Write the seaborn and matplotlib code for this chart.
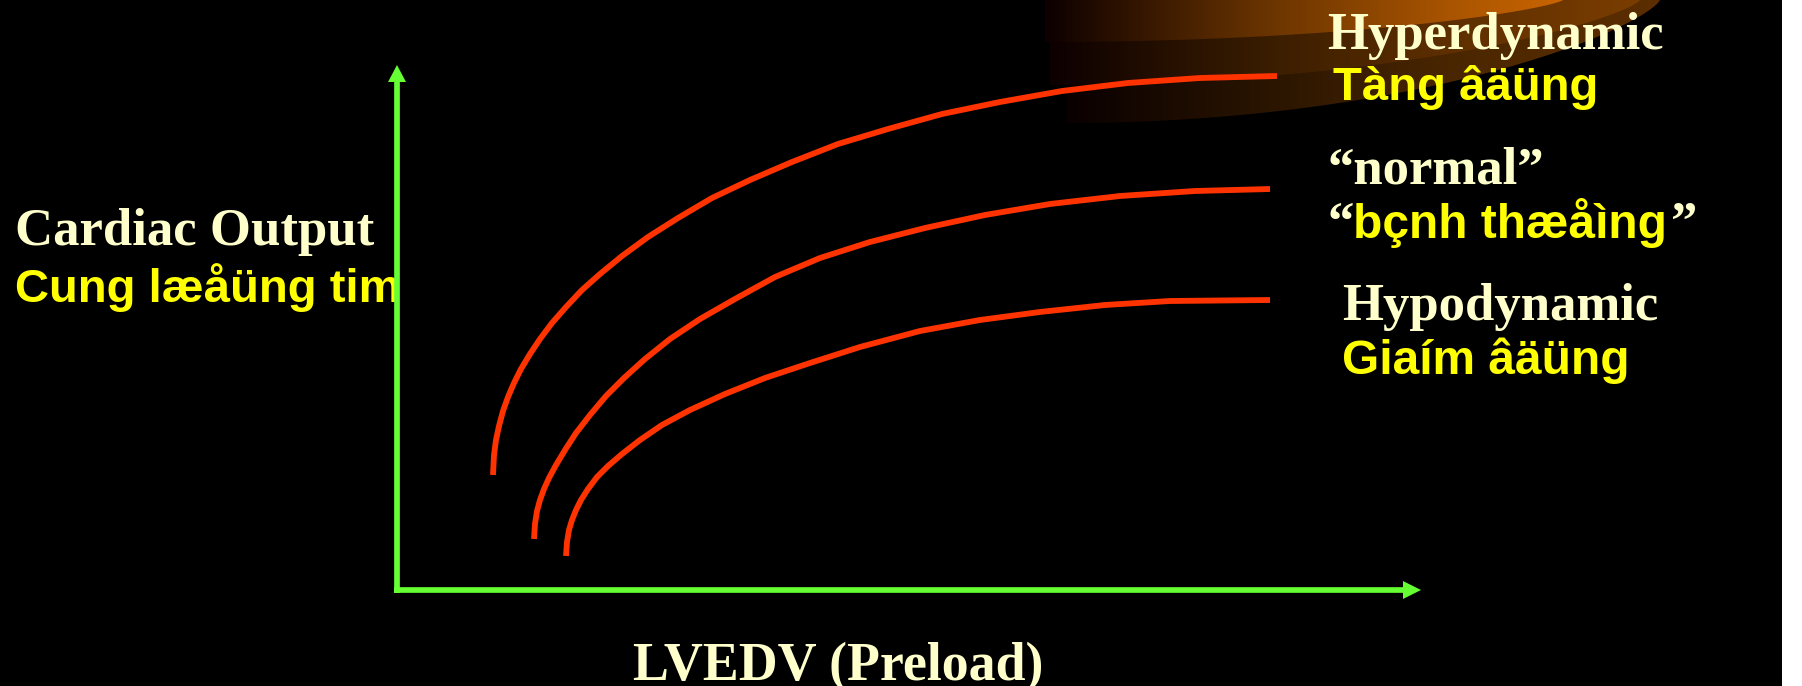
import numpy as np
import pandas as pd
import matplotlib
matplotlib.use("Agg")
import matplotlib.pyplot as plt
from matplotlib.colors import LinearSegmentedColormap
from matplotlib.patches import Polygon, Rectangle
import seaborn as sns

# Frank-Starling curves: cardiac output vs LVEDV (arbitrary units)
hyper_preload = [9.6, 9.7, 9.9, 10.2, 10.6, 11.1, 11.7, 12.4, 13.3, 14.3, 15.5, 16.9,
                 18.5, 20.3, 22.5, 25.1, 28.1, 31.5, 35.3, 39.5, 44.1, 49.1, 54.5,
                 60.3, 66.5, 73.1, 80.3, 88.0]
hyper_output = [23.0, 27.0, 30.0, 32.8, 35.8, 38.6, 41.4, 44.2, 47.2, 50.2, 53.4, 56.6,
                60.0, 63.2, 66.8, 70.6, 74.4, 78.4, 82.0, 85.6, 89.2, 92.2, 95.2,
                97.6, 99.8, 101.4, 102.4, 102.8]

normal_preload = [13.7, 13.8, 14.0, 14.3, 14.7, 15.2, 15.9, 16.8, 17.9, 19.3, 20.9,
                  22.7, 24.8, 27.3, 30.3, 33.8, 37.8, 42.3, 47.3, 52.8, 58.8, 65.3,
                  72.3, 79.8, 87.3]
normal_output = [10.2, 13.2, 15.8, 18.0, 20.2, 22.4, 25.0, 28.0, 31.4, 35.0, 38.8,
                 42.4, 46.2, 50.2, 54.2, 58.2, 62.6, 66.4, 69.6, 72.4, 75.0, 77.2,
                 78.8, 79.8, 80.2]

hypo_preload = [16.9, 17.0, 17.2, 17.5, 17.9, 18.4, 19.1, 20.0, 21.1, 22.5, 24.3,
                26.5, 29.3, 32.8, 36.8, 41.3, 46.3, 52.3, 58.3, 64.3, 70.8, 77.3, 87.3]
hypo_output = [6.8, 9.6, 12.0, 14.0, 16.0, 18.0, 20.2, 22.6, 24.8, 27.2, 30.0,
               33.0, 36.0, 39.2, 42.4, 45.4, 48.6, 51.8, 54.0, 55.6, 57.0, 57.8, 58.0]

states = ["Hyperdynamic", "normal", "Hypodynamic"]

W, H = 1802, 686
RED = "#ff3300"
GREEN = "#66ff33"
CREAM = "#ffffcc"
YELLOW = "#ffff00"
SERIF = ["Liberation Serif", "DejaVu Serif"]
SANS = ["Liberation Sans", "DejaVu Sans"]

sns.set_theme(style="dark")
plt.rcParams["font.family"] = SANS

fig = plt.figure(figsize=(W / 100, H / 100), dpi=100, facecolor="black")

# ---- background layer, laid out in pixel units ----
bg = fig.add_axes([0, 0, 1, 1], zorder=0)
bg.axis("off")


def glow_band(x0, x1, y0, stops, z):
    xs = np.linspace(x0, x1, 300)
    u = (xs - x0) / (x1 - x0)
    ys = y0 * np.clip(1 - u ** 2, 0, None) ** 0.75
    verts = [(x0, 0)] + list(zip(xs, ys)) + [(x1, 0)]
    poly = Polygon(verts, closed=True, facecolor="none", edgecolor="none",
                   transform=bg.transData)
    bg.add_patch(poly)
    cmap = LinearSegmentedColormap.from_list("band", stops)
    grad = np.linspace(0, 1, 512)[None, :]
    im = bg.imshow(grad, cmap=cmap, extent=(x0, x1, y0, 0), aspect="auto",
                   interpolation="bilinear", zorder=z)
    im.set_clip_path(poly)


glow_band(1067, 1660, 123, [(0, "#0a0000"), (0.34, "#2a1500"), (0.65, "#4a2600"),
                            (1, "#5c2e00")], 1)
glow_band(1050, 1640, 85, [(0, "#0d0000"), (0.37, "#3a1d00"), (0.68, "#5e2f00"),
                           (1, "#7a3d00")], 2)
glow_band(1045, 1563, 42, [(0, "#0d0000"), (0.43, "#6a3400"), (0.78, "#a85400"),
                           (1, "#c86400")], 3)

bg.add_patch(Rectangle((1782, 0), 20, H, facecolor="white", edgecolor="none", zorder=4))

# axis lines with arrowheads
lw_axis = 4.1
bg.plot([397, 397], [593, 81], color=GREEN, lw=lw_axis, solid_capstyle="butt", zorder=10)
bg.plot([394, 1404], [590, 590], color=GREEN, lw=lw_axis, solid_capstyle="butt", zorder=10)
bg.add_patch(Polygon([(388, 82), (406, 82), (397, 65)], closed=True, facecolor=GREEN,
                     edgecolor="none", zorder=10))
bg.add_patch(Polygon([(1403, 581), (1403, 599), (1421, 590)], closed=True,
                     facecolor=GREEN, edgecolor="none", zorder=10))


def label(x, y, s, family, size, color):
    return bg.text(x, y, s, fontfamily=family, fontsize=size, fontweight="bold",
                   color=color, ha="left", va="baseline", zorder=6)


label(1327, 49, "Hyperdynamic", SERIF, 38, CREAM)
label(1333, 100, "Tàng âäüng", SANS, 34, YELLOW)
label(1327, 183, "\u201cnormal\u201d", SERIF, 38, CREAM)
label(1327, 238, "\u201c", SERIF, 38, CREAM)
word = label(1353, 238, "bçnh thæåìng", SANS, 34.5, YELLOW)
label(1342, 320, "Hypodynamic", SERIF, 38, CREAM)
label(1342, 374, "Giaím âäüng", SANS, 34.5, YELLOW)
label(15, 245, "Cardiac Output", SERIF, 38, CREAM)
label(15, 302, "Cung læåüng tim", SANS, 34, YELLOW)
label(633, 680, "LVEDV (Preload)", SERIF, 38.8, CREAM)

bg.set_xlim(0, W)
bg.set_ylim(H, 0)

# closing quote placed right after the Vietnamese word
fig.canvas.draw()
bb = word.get_window_extent(renderer=fig.canvas.get_renderer())
x_end = bg.transData.inverted().transform((bb.x1, bb.y0))[0]
label(x_end + 4, 238, "\u201d", SERIF, 38, CREAM)

# ---- curves ----
ax = fig.add_axes([397 / W, (H - 590) / H, (1421 - 397) / W, (590 - 65) / H], zorder=1)
ax.patch.set_alpha(0)
ax.axis("off")

df = pd.concat([
    pd.DataFrame({"preload": hyper_preload, "output": hyper_output, "state": states[0]}),
    pd.DataFrame({"preload": normal_preload, "output": normal_output, "state": states[1]}),
    pd.DataFrame({"preload": hypo_preload, "output": hypo_output, "state": states[2]}),
], ignore_index=True)

sns.lineplot(data=df, x="preload", y="output", hue="state", units="state",
             estimator=None, sort=False, palette={s: RED for s in states},
             legend=False, lw=4.2, ax=ax)
for ln in ax.lines:
    ln.set_solid_capstyle("butt")
    ln.set_solid_joinstyle("round")
    ln.set_antialiased(True)
    ln.set_clip_on(False)

ax.set_xlim(0, 102.4)
ax.set_ylim(0, 105)

fig.savefig("out.png", dpi=100, facecolor="black")
